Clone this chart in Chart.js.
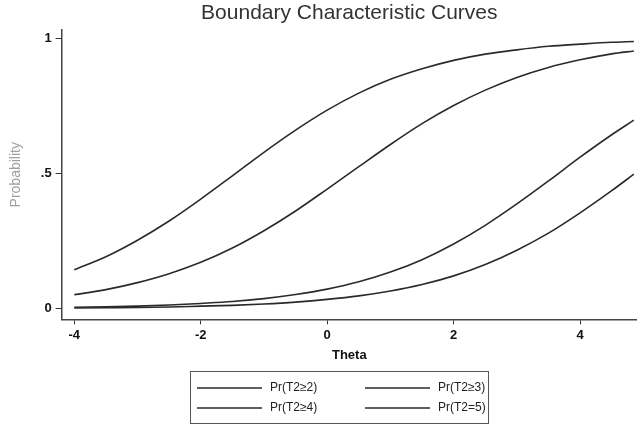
<!DOCTYPE html>
<html>
<head>
<meta charset="utf-8">
<script src="https://cdn.jsdelivr.net/npm/chart.js@4"></script>
<style>
  html, body { margin: 0; padding: 0; background: #ffffff; }
  #wrap { width: 637px; height: 425px; }
</style>
</head>
<body>
<div id="wrap"><canvas id="chartBcc"></canvas></div>
<script>
// Boundary characteristic curves

var theta = [-4, -3.5, -3, -2.5, -2, -1.5, -1, -0.5, 0, 0.5, 1, 1.5, 2, 2.5, 3, 3.5, 4, 4.5, 4.85];

var prGe2 = [0.144, 0.192, 0.253, 0.324, 0.405, 0.491, 0.578, 0.660, 0.734, 0.797, 0.848, 0.887, 0.918, 0.941, 0.957, 0.970, 0.978, 0.985, 0.988];
var prGe3 = [0.051, 0.070, 0.096, 0.129, 0.171, 0.224, 0.288, 0.361, 0.442, 0.525, 0.607, 0.684, 0.751, 0.808, 0.855, 0.892, 0.920, 0.942, 0.953];
var prGe4 = [0.005, 0.007, 0.009, 0.013, 0.019, 0.026, 0.037, 0.052, 0.072, 0.099, 0.135, 0.181, 0.239, 0.308, 0.387, 0.472, 0.560, 0.643, 0.697];
var prEq5 = [0.002, 0.003, 0.004, 0.006, 0.009, 0.012, 0.017, 0.024, 0.034, 0.047, 0.065, 0.089, 0.121, 0.163, 0.216, 0.279, 0.354, 0.436, 0.497];

var seriesLabels = ['Pr(T2\u22652)', 'Pr(T2\u22653)', 'Pr(T2\u22654)', 'Pr(T2=5)'];

var xTicks = [-4, -2, 0, 2, 4];
var yTicks = [0, 0.5, 1];
var yTickLabels = ['0', '.5', '1'];

function toPoints(values) {
    return values.map(function(v, i) { return { x: theta[i], y: v }; });
}

var lineColor = '#2a2a2a';

function makeDataset(label, values) {
    return {
        label: label,
        data: toPoints(values),
        borderColor: lineColor,
        backgroundColor: lineColor,
        borderWidth: 1.6,
        pointRadius: 0,
        fill: false,
        cubicInterpolationMode: 'monotone'
    };
}

// legend drawn in a box below the axis, two columns like the original
var boxLegend = {
    id: 'boxLegend',
    afterDraw: function(chart) {
        var ctx = chart.ctx;
        var left = 190, top = 371, w = 298, h = 52;
        ctx.save();
        ctx.strokeStyle = '#555555';
        ctx.lineWidth = 1;
        ctx.strokeRect(left + 0.5, top + 0.5, w, h);
        ctx.font = "12px 'Liberation Sans', Arial, sans-serif";
        ctx.textBaseline = 'middle';
        ctx.fillStyle = '#222222';
        chart.data.datasets.forEach(function(ds, i) {
            var col = i % 2, row = Math.floor(i / 2);
            var x0 = left + 7 + col * 168;
            var y0 = top + 17 + row * 20;
            ctx.strokeStyle = ds.borderColor;
            ctx.lineWidth = 1.4;
            ctx.beginPath();
            ctx.moveTo(x0, y0);
            ctx.lineTo(x0 + 65, y0);
            ctx.stroke();
            ctx.fillText(ds.label, x0 + 73, y0);
        });
        ctx.restore();
    }
};

document.addEventListener('DOMContentLoaded', function() {
    var ctxBcc = document.getElementById('chartBcc');
    new Chart(ctxBcc.getContext('2d'), {
        type: 'line',
        data: {
            datasets: [
                makeDataset(seriesLabels[0], prGe2),
                makeDataset(seriesLabels[1], prGe3),
                makeDataset(seriesLabels[2], prGe4),
                makeDataset(seriesLabels[3], prEq5)
            ]
        },
        plugins: [boxLegend],
        options: {
            responsive: true,
            maintainAspectRatio: false,
            animation: false,
            layout: {
                padding: { left: 8, right: 0, top: 0, bottom: 62 }
            },
            plugins: {
                legend: { display: false },
                tooltip: { enabled: false },
                title: {
                    display: true,
                    text: 'Boundary Characteristic Curves',
                    fullSize: false,
                    color: '#333333',
                    font: { family: "'Liberation Sans', Arial, sans-serif", size: 21, weight: 'normal', lineHeight: 1.1 },
                    padding: { top: 2, bottom: 5 }
                }
            },
            scales: {
                x: {
                    type: 'linear',
                    min: -4.2,
                    max: 4.9,
                    afterBuildTicks: function(axis) {
                        axis.ticks = xTicks.map(function(v) { return { value: v }; });
                    },
                    grid: {
                        drawOnChartArea: false,
                        drawTicks: true,
                        tickLength: 5,
                        color: '#333333'
                    },
                    border: { display: true, color: '#444444', width: 1.5 },
                    ticks: {
                        color: '#111111',
                        padding: 5,
                        maxRotation: 0,
                        font: { family: "'Liberation Sans', Arial, sans-serif", size: 13, weight: 'bold', lineHeight: 1 }
                    },
                    title: {
                        display: true,
                        text: 'Theta',
                        color: '#111111',
                        padding: { top: 0, bottom: 0 },
                        font: { family: "'Liberation Sans', Arial, sans-serif", size: 13, weight: 'bold' }
                    }
                },
                y: {
                    type: 'linear',
                    min: -0.04,
                    max: 1.03,
                    afterBuildTicks: function(axis) {
                        axis.ticks = yTicks.map(function(v) { return { value: v }; });
                    },
                    grid: {
                        drawOnChartArea: false,
                        drawTicks: true,
                        tickLength: 6,
                        color: '#333333'
                    },
                    border: { display: true, color: '#444444', width: 1.5 },
                    ticks: {
                        color: '#111111',
                        padding: 4,
                        font: { family: "'Liberation Sans', Arial, sans-serif", size: 13, weight: 'bold' },
                        callback: function(value) {
                            var k = yTicks.indexOf(value);
                            return k >= 0 ? yTickLabels[k] : '';
                        }
                    },
                    title: {
                        display: true,
                        text: 'Probability',
                        color: '#a0a0a0',
                        padding: { top: 0, bottom: 12 },
                        font: { family: "'Liberation Sans', Arial, sans-serif", size: 14, weight: 'normal' }
                    }
                }
            }
        }
    });
});
</script>
</body>
</html>
